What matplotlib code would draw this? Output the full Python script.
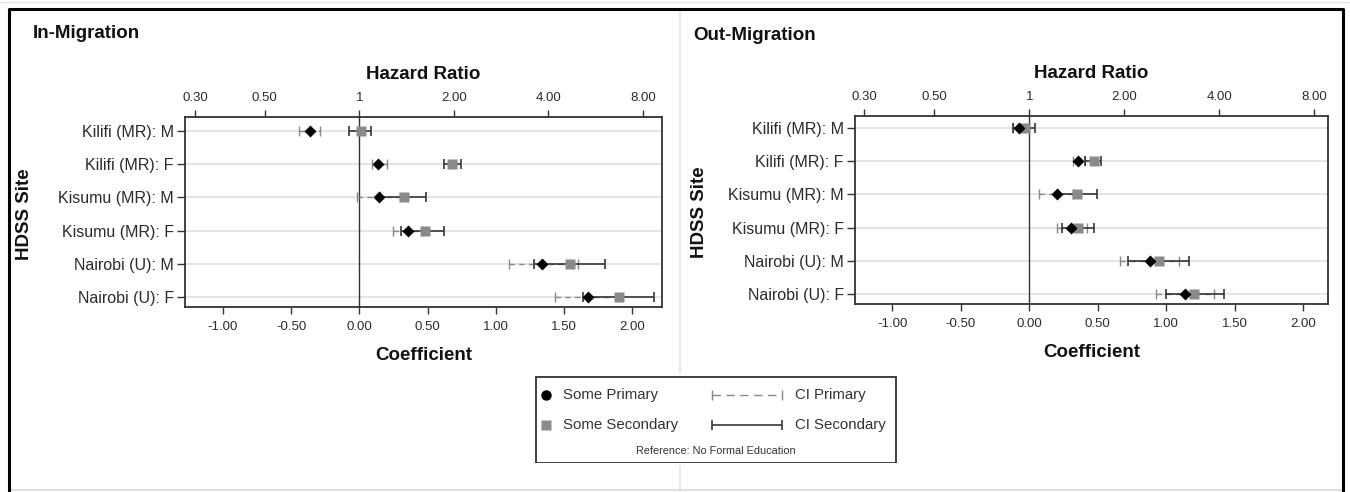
import numpy as np
import matplotlib
matplotlib.use("Agg")
import matplotlib.pyplot as plt
from matplotlib.lines import Line2D
from matplotlib.patches import Rectangle

plt.rcParams['font.family'] = ['Liberation Sans', 'DejaVu Sans']

# ---------------- data ----------------
sites = ["Kilifi (MR): M", "Kilifi (MR): F", "Kisumu (MR): M",
         "Kisumu (MR): F", "Nairobi (U): M", "Nairobi (U): F"]

in_prim = [-0.364, 0.140, 0.143, 0.359, 1.337, 1.676]
in_prim_lo = [-0.442, 0.096, -0.015, 0.246, 1.096, 1.435]
in_prim_hi = [-0.285, 0.206, 0.300, 0.470, 1.600, 1.920]
in_sec = [0.010, 0.683, 0.330, 0.482, 1.543, 1.902]
in_sec_lo = [-0.074, 0.624, 0.152, 0.305, 1.283, 1.639]
in_sec_hi = [0.088, 0.742, 0.491, 0.619, 1.800, 2.162]

out_prim = [-0.076, 0.354, 0.205, 0.305, 0.878, 1.134]
out_prim_lo = [-0.120, 0.320, 0.071, 0.205, 0.663, 0.922]
out_prim_hi = [-0.030, 0.410, 0.320, 0.420, 1.095, 1.346]
out_sec = [-0.032, 0.473, 0.349, 0.359, 0.944, 1.205]
out_sec_lo = [-0.117, 0.410, 0.210, 0.237, 0.720, 0.995]
out_sec_hi = [0.041, 0.524, 0.493, 0.473, 1.166, 1.422]

coef_ticks = [-1.0, -0.5, 0.0, 0.5, 1.0, 1.5, 2.0]
coef_labels = ["-1.00", "-0.50", "0.00", "0.50", "1.00", "1.50", "2.00"]
hr_ticks = [0.3, 0.5, 1, 2, 4, 8]
hr_labels = ["0.30", "0.50", "1", "2.00", "4.00", "8.00"]

W, H = 1350, 492
fig = plt.figure(figsize=(W / 100, H / 100), dpi=100)
fig.patch.set_facecolor('white')

TXT = '#2b2b2b'


def px(x0, y0, x1, y1):
    return [x0 / W, 1 - y1 / H, (x1 - x0) / W, (y1 - y0) / H]


def panel(rect, xlim, ylim, title, title_xy, ylab_x,
          prim, plo, phi, sec, slo, shi):
    prim, plo, phi = map(np.asarray, (prim, plo, phi))
    sec, slo, shi = map(np.asarray, (sec, slo, shi))
    ax = fig.add_axes(px(*rect))
    y = np.arange(len(sites))
    for yy in y:
        ax.axhline(yy, color='#e4e4e4', lw=1.4, zorder=0)
    ax.axvline(0, color='#333333', lw=1.0, zorder=1)
    eb = ax.errorbar(prim, y, xerr=[prim - plo, phi - prim], fmt='none',
                     ecolor='#888888', elinewidth=1.0, capsize=3.5,
                     capthick=1.0, zorder=2)
    eb[2][0].set_linestyle((0, (4, 3)))
    ax.errorbar(sec, y, xerr=[sec - slo, shi - sec], fmt='none',
                ecolor='#363636', elinewidth=1.2, capsize=3.5,
                capthick=1.2, zorder=3)
    ax.plot(sec, y, 's', color='#8a8a8a', ms=7.5, mec='none', zorder=4)
    ax.plot(prim, y, 'D', color='black', ms=5.8, mec='none', zorder=5)

    ax.set_xlim(*xlim)
    ax.set_ylim(*ylim)
    ax.set_yticks(y, sites)
    ax.set_xticks(coef_ticks, coef_labels)
    for s in ax.spines.values():
        s.set_color('#333333')
        s.set_linewidth(1.3)
    ax.tick_params(axis='x', length=5, width=1, pad=5, labelsize=9.5,
                   colors='#333333', labelcolor=TXT)
    ax.tick_params(axis='y', length=6, width=1, pad=2, labelsize=11.5,
                   colors='#333333', labelcolor=TXT)
    ax.set_xlabel("Coefficient", fontsize=13.5, fontweight='bold',
                  color='#111111', labelpad=10)

    top = ax.secondary_xaxis('top', functions=(np.exp, np.log))
    top.set_xticks(hr_ticks, hr_labels)
    top.tick_params(axis='x', length=5, width=1, pad=4, labelsize=9.5,
                    colors='#333333', labelcolor=TXT)
    top.spines['top'].set_visible(False)
    top.set_xlabel("Hazard Ratio", fontsize=13.5, fontweight='bold',
                   color='#111111', labelpad=10)

    fig.text(title_xy[0] / W, 1 - title_xy[1] / H, title, fontsize=13.5,
             fontweight='bold', color='#111111', ha='left', va='center')
    cy = rect[1] + (rect[3] - rect[1]) / 2 + 2
    fig.text(ylab_x / W, 1 - cy / H, "HDSS Site", fontsize=13.5,
             fontweight='bold', color='#111111', rotation=90,
             ha='center', va='center')
    return ax


panel((185, 117, 662, 307), (-1.278, 2.219), (5.30, -0.42),
      "In-Migration", (33, 34), 25,
      in_prim, in_prim_lo, in_prim_hi, in_sec, in_sec_lo, in_sec_hi)
panel((855, 116, 1328, 304), (-1.272, 2.18), (5.30, -0.36),
      "Out-Migration", (693, 35), 700,
      out_prim, out_prim_lo, out_prim_hi, out_sec, out_sec_lo, out_sec_hi)

# ---------------- legend ----------------
lg = fig.add_axes(px(535, 376, 897, 463))
lg.set_xlim(0, 362)
lg.set_ylim(87, 0)
lg.axis('off')
lg.add_patch(Rectangle((0.5, 0.5), 361, 86, fill=False, ec='#333333',
                       lw=1.3))
lg.plot([11], [19], 'o', color='black', ms=7.5, mec='none')
lg.plot([11], [49], 's', color='#8a8a8a', ms=7.5, mec='none')
lg.text(28, 19, "Some Primary", fontsize=10.8, color='#333333',
        va='center', ha='left')
lg.text(28, 49, "Some Secondary", fontsize=10.8, color='#333333',
        va='center', ha='left')
lg.errorbar([212], [19], xerr=[[35], [35]], fmt='none', ecolor='#888888',
            elinewidth=1.0, capsize=3.5, capthick=1.0)[2][0].set_linestyle((0, (6, 4)))
lg.errorbar([212], [49], xerr=[[35], [35]], fmt='none', ecolor='#363636',
            elinewidth=1.2, capsize=3.5, capthick=1.2)
lg.text(260, 19, "CI Primary", fontsize=10.8, color='#333333',
        va='center', ha='left')
lg.text(260, 49, "CI Secondary", fontsize=10.8, color='#333333',
        va='center', ha='left')
lg.text(181, 75, "Reference: No Formal Education", fontsize=7.8,
        color='#333333', va='center', ha='center')

# ---------------- frame ----------------
def fline(xs, ys, **kw):
    fig.add_artist(Line2D([x / W for x in xs], [1 - y / H for y in ys],
                          transform=fig.transFigure, **kw))

fline([0, W], [2, 2], color='#e4e4e4', lw=1)
fline([680, 680], [10, 372], color='#e4e4e4', lw=1.2)
fline([680, 680], [466, 490], color='#e4e4e4', lw=1.2)
fline([9, W - 7], [489.5, 489.5], color='#d8d8d8', lw=1.2)
fline([9, 9, W - 7, W - 7], [490, 9, 9, 490], color='black', lw=2.2)

fig.savefig("out.png", dpi=100, facecolor='white')
